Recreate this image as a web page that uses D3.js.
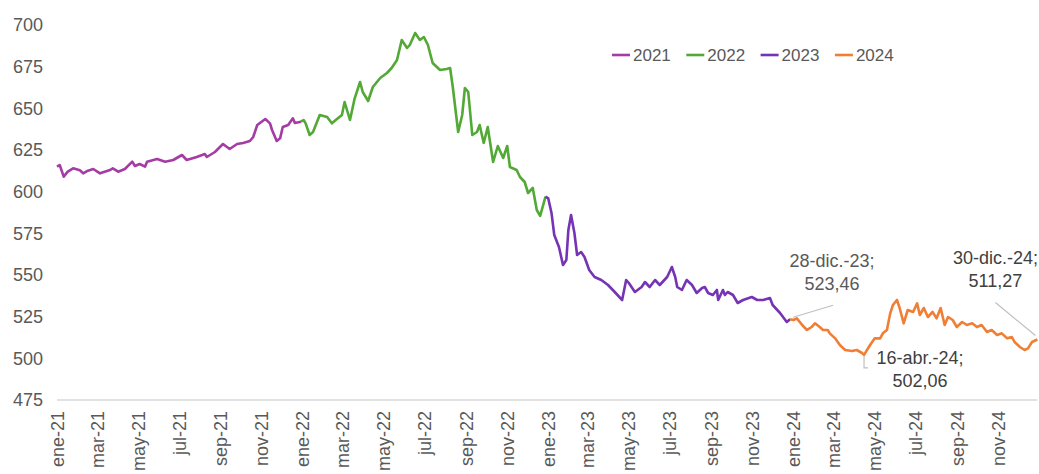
<!DOCTYPE html>
<html><head><meta charset="utf-8">
<script src="https://cdn.jsdelivr.net/npm/d3@7"></script>
<style>
html,body{margin:0;padding:0;background:#fff;}
svg{display:block;font-family:"Liberation Sans",Arial,sans-serif;}
</style></head>
<body>
<svg id="chart" width="1039" height="474"></svg>
<script>
// ---- data ----
const seriesNames = ["2021", "2022", "2023", "2024"];
const seriesColors = ["#a43ca4", "#52a935", "#7434b4", "#f07e34"];

const dates2021 = ["2021-01-01","2021-01-05","2021-01-11","2021-01-17","2021-01-25","2021-02-04","2021-02-09","2021-02-16","2021-02-24","2021-03-06","2021-03-21","2021-03-25","2021-04-02","2021-04-12","2021-04-23","2021-04-27","2021-05-04","2021-05-12","2021-05-15","2021-05-30","2021-06-11","2021-06-23","2021-07-06","2021-07-13","2021-07-28","2021-08-09","2021-08-12","2021-08-24","2021-09-05","2021-09-15","2021-09-26","2021-10-05","2021-10-15","2021-10-20","2021-10-26","2021-11-07","2021-11-14","2021-11-17","2021-11-24","2021-11-29","2021-12-03","2021-12-11","2021-12-18","2021-12-21","2021-12-30"];
const values2021 = [615,616,609,612,614,612.8,611,612.6,613.6,611,613,614,612,613.6,618,615.4,616.6,615,618,619.6,618,619,622,619,620.8,622.6,620.8,623.8,628.6,625.6,628.6,629.2,630.4,632.8,640,643.6,641,637,630.4,632,638.8,640,644,641.2,642];

const dates2022 = ["2022-01-03","2022-01-06","2022-01-12","2022-01-17","2022-01-27","2022-02-07","2022-02-14","2022-02-23","2022-03-01","2022-03-05","2022-03-13","2022-03-20","2022-03-28","2022-04-01","2022-04-09","2022-04-16","2022-04-27","2022-05-07","2022-05-14","2022-05-22","2022-05-29","2022-06-06","2022-06-10","2022-06-18","2022-06-25","2022-07-01","2022-07-07","2022-07-14","2022-07-25","2022-08-04","2022-08-09","2022-08-13","2022-08-21","2022-08-27","2022-08-31","2022-09-05","2022-09-11","2022-09-18","2022-09-22","2022-09-28","2022-10-04","2022-10-12","2022-10-19","2022-10-27","2022-11-02","2022-11-06","2022-11-16","2022-11-21","2022-11-28","2022-12-03","2022-12-10","2022-12-16","2022-12-21","2022-12-29"];
const values2022 = [643,641,634,635.8,646,644.8,641,644,646,653.8,643,656,665.8,659.8,654.4,662.8,668.2,671.2,674.2,679,691,686.2,688,695.2,691,692.8,688,677.2,673,673.6,674.2,662.8,635.8,646,662.2,659.8,634,635.8,640,629.2,638.8,617.8,627.4,620.2,627.4,614.8,613,608.8,605.8,599.2,602.2,589,585.5,597];

const dates2023 = ["2023-01-02","2023-01-07","2023-01-11","2023-01-18","2023-01-24","2023-01-29","2023-02-01","2023-02-05","2023-02-10","2023-02-14","2023-02-20","2023-02-25","2023-03-04","2023-03-12","2023-03-22","2023-04-01","2023-04-11","2023-04-22","2023-04-28","2023-05-02","2023-05-11","2023-05-21","2023-05-26","2023-06-02","2023-06-10","2023-06-17","2023-06-28","2023-07-05","2023-07-10","2023-07-13","2023-07-20","2023-07-27","2023-08-04","2023-08-11","2023-08-19","2023-08-23","2023-08-28","2023-09-04","2023-09-10","2023-09-12","2023-09-19","2023-09-22","2023-09-26","2023-10-04","2023-10-11","2023-10-19","2023-11-01","2023-11-09","2023-11-18","2023-11-28","2023-12-02","2023-12-13","2023-12-23","2023-12-28"];
const values2023 = [596,587,574,566.8,556,559,577,586,575.2,562,563.8,560.8,553,548.8,547,544,539.8,535,547,545.2,539.8,542.8,545.8,542.8,547,544,548.8,554.8,548.8,542.8,541,547,544,539.2,542.2,542.8,539.2,538,541,535,541,538,539.8,538,533.2,535,536.8,535,535,536.2,532,527.2,521.8,523.46];

const dates2024 = ["2024-01-02","2024-01-07","2024-01-15","2024-01-22","2024-01-29","2024-02-03","2024-02-10","2024-02-15","2024-02-22","2024-02-25","2024-03-04","2024-03-11","2024-03-19","2024-03-29","2024-04-05","2024-04-13","2024-04-16","2024-04-25","2024-05-02","2024-05-10","2024-05-14","2024-05-20","2024-05-25","2024-05-29","2024-06-04","2024-06-08","2024-06-14","2024-06-20","2024-06-28","2024-07-04","2024-07-08","2024-07-14","2024-07-20","2024-07-27","2024-08-02","2024-08-08","2024-08-14","2024-08-19","2024-08-26","2024-09-01","2024-09-09","2024-09-16","2024-09-24","2024-10-01","2024-10-08","2024-10-16","2024-10-23","2024-10-31","2024-11-07","2024-11-15","2024-11-22","2024-11-26","2024-12-04","2024-12-11","2024-12-16","2024-12-22","2024-12-30"];
const values2024 = [523,524,520,517,518.8,521,518.8,517,517,515,512,508,505,504.4,505,503.2,502.06,508,512,512,515,517,527,532,535,530.2,521,529,527.8,533,526,530.2,524.8,527.8,524,530.2,520,524.8,523,518.8,521.8,520,521,518.8,520,515.8,517,514,515,512,512.8,509.8,506.8,505,506,509.8,511.27];

const yTicks = [475,500,525,550,575,600,625,650,675,700];
const monthAbbr = ["ene","feb","mar","abr","may","jun","jul","ago","sep","oct","nov","dic"];

const annotations = [
  {date:"2023-12-28", value:523.46, line1:"28-dic.-23;", line2:"523,46"},
  {date:"2024-04-16", value:502.06, line1:"16-abr.-24;", line2:"502,06"},
  {date:"2024-12-30", value:511.27, line1:"30-dic.-24;", line2:"511,27"}
];

// ---- chart ----
const parse = d3.timeParse("%Y-%m-%d");
const svg = d3.select("#chart");
const x = d3.scaleTime().domain([parse("2021-01-01"), parse("2024-12-30")]).range([57, 1037.4]);
const y = d3.scaleLinear().domain([475, 700]).range([400, 25]);

const allDates = [dates2021, dates2022, dates2023, dates2024];
const allValues = [values2021, values2022, values2023, values2024];
const series = seriesNames.map((n, i) => ({
  name: n, color: seriesColors[i],
  pts: allDates[i].map((d, j) => ({date: parse(d), value: allValues[i][j]}))
}));

// baseline axis line
svg.append("line").attr("x1", x.range()[0]).attr("x2", x.range()[1])
  .attr("y1", y(475)).attr("y2", y(475)).attr("stroke", "#d9d9d9").attr("stroke-width", 1.3);

// y axis
const yAxis = d3.axisLeft(y).tickValues(yTicks).tickSize(0).tickPadding(0).tickFormat(d3.format("d"));
const yg = svg.append("g").attr("transform", "translate(43,0)").call(yAxis);
yg.select(".domain").remove();
yg.selectAll("text").attr("font-size", 18).attr("fill", "#595959")
  .attr("font-family", "'Liberation Sans', Arial, sans-serif");

// x axis
const xTicks = d3.timeMonth.every(2).range(parse("2021-01-01"), parse("2024-12-31"));
const xAxis = d3.axisBottom(x).tickValues(xTicks).tickSize(0)
  .tickFormat(d => monthAbbr[d.getMonth()] + "-" + String(d.getFullYear()).slice(2));
const xg = svg.append("g").attr("transform", "translate(0,411)").call(xAxis);
xg.select(".domain").remove();
xg.selectAll("text").attr("font-size", 18).attr("fill", "#595959")
  .attr("font-family", "'Liberation Sans', Arial, sans-serif")
  .attr("transform", "rotate(-90)").attr("text-anchor", "end")
  .attr("x", 0).attr("y", 0).attr("dy", "0.36em");

// lines
const line = d3.line().x(d => x(d.date)).y(d => y(d.value));
series.forEach((s, i) => {
  const pts = i > 0 ? [series[i-1].pts[series[i-1].pts.length-1]].concat(s.pts) : s.pts;
  svg.append("path").datum(pts).attr("d", line).attr("fill", "none")
    .attr("stroke", s.color).attr("stroke-width", 2.6).attr("stroke-linejoin", "round");
});

// legend
const legend = svg.append("g").attr("transform", "translate(612,55)");
seriesNames.forEach((n, i) => {
  const g = legend.append("g").attr("transform", `translate(${i*74.3},0)`);
  g.append("line").attr("x1", 0).attr("x2", 18).attr("y1", 0).attr("y2", 0)
    .attr("stroke", seriesColors[i]).attr("stroke-width", 2.6);
  g.append("text").attr("x", 21).attr("y", 0).attr("dy", "0.35em")
    .attr("font-size", 17).attr("fill", "#595959").text(n);
});

// annotations
const ann = svg.append("g").attr("font-size", 18).attr("text-anchor", "middle");
// 1: 28-dic.-23
{
  const a = annotations[0], px = x(parse(a.date)), py = y(a.value);
  ann.append("line").attr("x1", px + 3).attr("y1", py - 2).attr("x2", px + 43).attr("y2", py - 14)
    .attr("stroke", "#bfbfbf").attr("stroke-width", 1.2);
  ann.append("text").attr("x", px + 42).attr("y", py - 52).attr("fill", "#595959").text(a.line1);
  ann.append("text").attr("x", px + 42).attr("y", py - 29).attr("fill", "#595959").text(a.line2);
}
// 2: 16-abr.-24
{
  const a = annotations[1], px = x(parse(a.date)), py = y(a.value);
  ann.append("polyline").attr("points", `${px},${py+1} ${px},${py+13} ${px+4},${py+13}`)
    .attr("fill", "none").attr("stroke", "#bfbfbf").attr("stroke-width", 1.2);
  ann.append("text").attr("x", px + 56).attr("y", py + 9).attr("fill", "#404040").text(a.line1);
  ann.append("text").attr("x", px + 56).attr("y", py + 32).attr("fill", "#404040").text(a.line2);
}
// 3: 30-dic.-24
{
  const a = annotations[2], px = x(parse(a.date)), py = y(a.value);
  ann.append("line").attr("x1", px - 2).attr("y1", py - 4).attr("x2", px - 42).attr("y2", py - 37)
    .attr("stroke", "#bfbfbf").attr("stroke-width", 1.2);
  ann.append("text").attr("x", px - 42).attr("y", py - 76).attr("fill", "#404040").text(a.line1);
  ann.append("text").attr("x", px - 42).attr("y", py - 53).attr("fill", "#404040").text(a.line2);
}
</script>
</body></html>
